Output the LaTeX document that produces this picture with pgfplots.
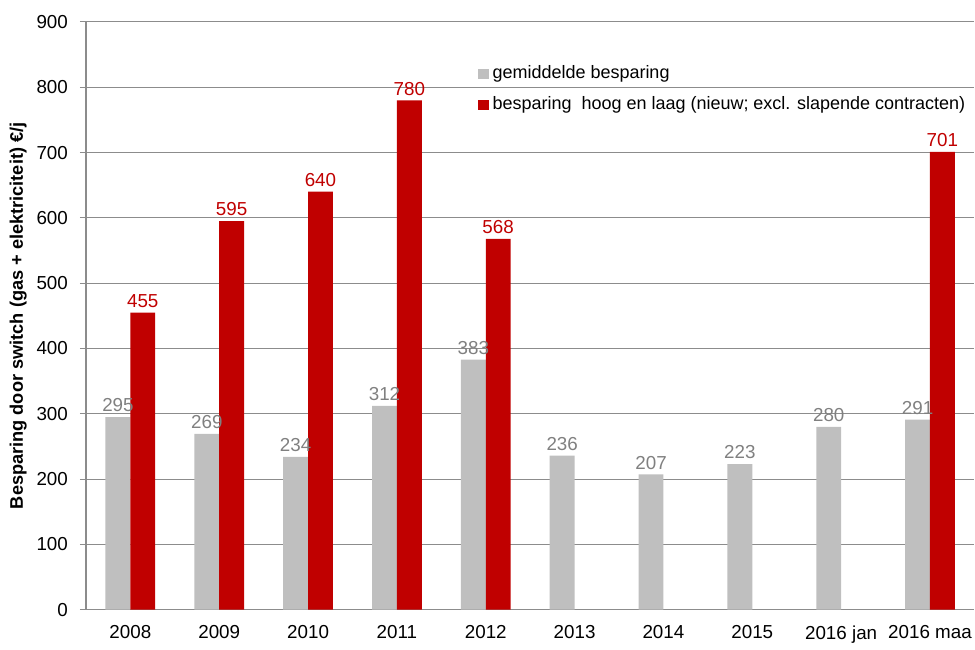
\documentclass[border=0pt]{standalone}
\usepackage{pgfplots}
\pgfplotsset{compat=1.18}
\usepackage{fontspec}
\setmainfont{Liberation Sans}
\definecolor{barGray}{HTML}{BFBFBF}
\definecolor{barRed}{HTML}{C00000}
\definecolor{lblGray}{HTML}{808080}
\definecolor{gridGray}{HTML}{8C8C8C}
\begin{document}
\begin{tikzpicture}
\begin{axis}[
  scale only axis,
  width=444.5pt, height=294pt,
  xmin=-0.5, xmax=9.5,
  ymin=0, ymax=900,
  ytick={0,100,...,900},
  xtick={0,...,9},
  xticklabels={2008,2009,2010,2011,2012,2013,2014,2015,2016 jan,2016 maa},
  axis lines*=left,
  axis line style={gridGray, line width=0.6pt},
  ymajorgrids=true,
  grid style={gridGray, line width=0.5pt},
  major y tick style={gridGray, line width=0.5pt},
  tick align=outside,
  major tick length=3pt,
  major x tick style={draw=none},
  ticklabel style={font=\fontsize{9.4}{10}\selectfont},
  yticklabel style={xshift=-2.5pt},
  xticklabel style={yshift=-1.5pt, inner xsep=0pt},
  /pgf/number format/assume math mode=true,
  ylabel={\textbf{Besparing door switch (gas + elektriciteit) €/j}},
  ylabel style={font=\fontsize{9.1}{10}\selectfont, yshift=-2pt},
  legend style={at={(0.441,0.933)}, anchor=north west, draw=none, fill=none,
    font=\fontsize{9}{10}\selectfont, row sep=3.5pt, inner sep=0pt},
  legend cell align=left,
  legend image code/.code={\fill[#1,draw=none] (0pt,-2.6pt) rectangle (5.2pt,2.6pt);},
  clip=false,
]
\addplot[ybar, bar width=0.28, bar shift=-0.14, fill=barGray, draw=none,
  nodes near coords,
  nodes near coords style={font=\fontsize{9.4}{10}\selectfont, text=lblGray, anchor=south, xshift=-6.2pt, yshift=-1pt}]
  coordinates {(0,295) (1,269) (2,234) (3,312) (4,383) (5,236) (6,207) (7,223) (8,280) (9,291)};
\addlegendentry{gemiddelde besparing}
\addplot[ybar, bar width=0.28, bar shift=0.14, fill=barRed, draw=none,
  nodes near coords,
  nodes near coords style={font=\fontsize{9.4}{10}\selectfont, text=barRed, anchor=south, xshift=6.2pt, yshift=-1pt}]
  coordinates {(0,455) (1,595) (2,640) (3,780) (4,568) (9,701)};
\addlegendentry{besparing\ \ hoog en laag (nieuw; excl. slapende contracten)}
\path (rel axis cs:0,1) ++(-43pt,11pt);
\end{axis}
\end{tikzpicture}
\end{document}
